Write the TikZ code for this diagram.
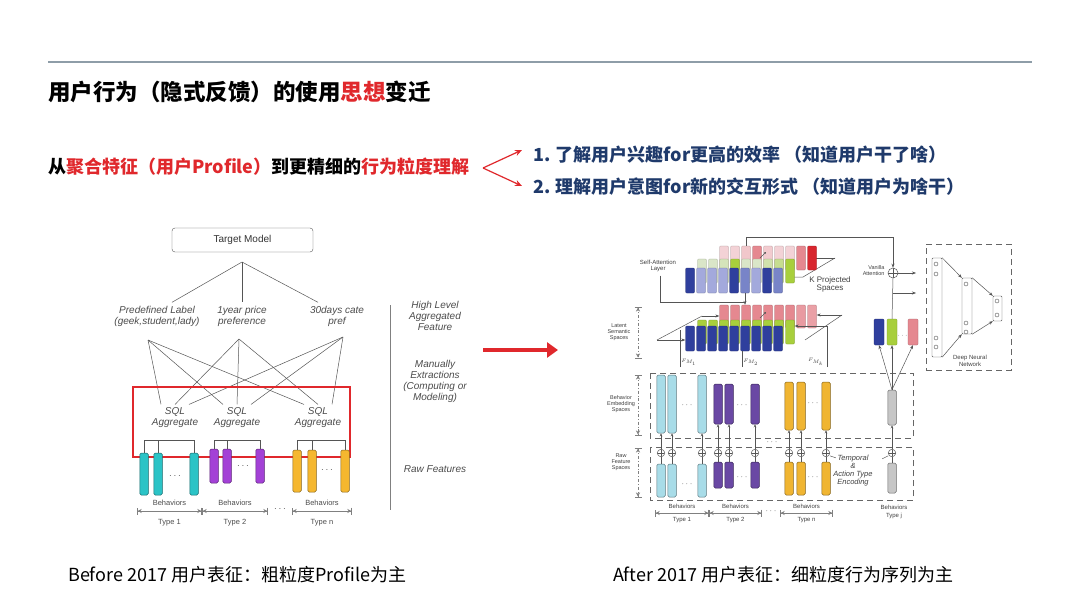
\documentclass[tikz,border=0pt]{standalone}
\usepackage{fontspec}
\setmainfont{Liberation Sans}
\newfontfamily\cjk{Noto Sans CJK SC}
\usetikzlibrary{arrows.meta,calc,positioning}

\definecolor{rulegray}{HTML}{8E9DA8}
\definecolor{slidered}{HTML}{E0282C}
\definecolor{navy}{HTML}{1F3A6B}
\definecolor{linegray}{HTML}{555555}
\definecolor{cyanL}{HTML}{2BC3C6}
\definecolor{purpL}{HTML}{A341D6}
\definecolor{orgL}{HTML}{F5B72F}
\definecolor{cyanR}{HTML}{A8DCE8}
\definecolor{purpR}{HTML}{6A48A4}
\definecolor{orgR}{HTML}{F0B532}
\definecolor{grayR}{HTML}{C6C6C6}
\definecolor{blueD}{HTML}{2F3F9D}
\definecolor{blueM}{HTML}{7884C8}
\definecolor{blueL}{HTML}{A3A9DC}
\definecolor{greenB}{HTML}{A8CF3C}
\definecolor{greenL}{HTML}{DAE6C8}
\definecolor{pinkL}{HTML}{F3D2D6}
\definecolor{pinkM}{HTML}{E58890}
\definecolor{redD}{HTML}{D8262E}

\tikzset{
  lbl/.style={font=\fontsize{10}{11}\selectfont\itshape, text=black!70, align=center},
  sml/.style={font=\fontsize{5.5}{6}\selectfont, text=black!75, align=center},
  bar/.style={draw=#1!55!black, fill=#1, rounded corners=1.5pt, minimum width=8.5pt, inner sep=0pt, line width=0.5pt},
  cell/.style={draw=#1!70!black, fill=#1, minimum width=9pt, inner sep=0pt, line width=0.3pt, rounded corners=1pt},
  oplus/.style={circle, draw=linegray, fill=white, minimum size=7.5pt, inner sep=0pt, line width=0.5pt,
    path picture={\draw[linegray,line width=0.4pt] (path picture bounding box.north) -- (path picture bounding box.south)
      (path picture bounding box.east) -- (path picture bounding box.west);}},
  dimline/.style={draw=gray, line width=0.7pt, {Bar[width=7pt]Stealth[length=4pt,width=4pt]}-{Stealth[length=4pt,width=4pt]Bar[width=7pt]}},
  lnk/.style={draw=linegray, line width=0.5pt},
  tip/.style={-{Stealth[length=4pt,width=3pt]}},
  dashbox/.style={draw=black!60, line width=0.8pt, dash pattern=on 6pt off 4pt},
}

\begin{document}
\begin{tikzpicture}[x=1pt,y=-1pt]
  \fill[white] (0,0) rectangle (1080,608);
  \useasboundingbox (0,0) rectangle (1080,608);

  % header and slogan
  \coordinate (ruleL) at (48,62);
  \coordinate (ruleR) at (1032,62);
  \draw[rulegray,line width=1.5pt] (ruleL) -- (ruleR);
  \node[anchor=west,inner sep=0pt,font=\cjk\bfseries\fontsize{22.5}{24}\selectfont] (title) at (48,92)
    {用户行为（隐式反馈）的使用\textcolor{slidered}{思想}变迁};
  \node[anchor=west,inner sep=0pt,font=\cjk\bfseries\fontsize{18}{20}\selectfont] (idea) at (48,167)
    {从\textcolor{slidered}{聚合特征（用户Profile）}到更精细的\textcolor{slidered}{行为粒度理解}};
  \node[anchor=west,inner sep=0pt,text=navy,font=\cjk\bfseries\fontsize{18}{20}\selectfont] (goal1) at (533,155)
    {1. 了解用户兴趣for更高的效率 （知道用户干了啥）};
  \node[anchor=west,inner sep=0pt,text=navy,font=\cjk\bfseries\fontsize{18}{20}\selectfont] (goal2) at (533,187)
    {2. 理解用户意图for新的交互形式 （知道用户为啥干）};
  \coordinate (fork) at (483,168);
  \draw[slidered,line width=1.2pt,-{Stealth[length=7pt,width=6pt]}] (fork) -- ([xshift=-11pt,yshift=5pt]goal1.west);
  \draw[slidered,line width=1.2pt,-{Stealth[length=7pt,width=6pt]}] (fork) -- ([xshift=-11pt,yshift=1pt]goal2.west);

  \node[anchor=west,inner sep=0pt,font=\cjk\fontsize{18}{20}\selectfont] (before) at (68,575)
    {Before 2017 用户表征：粗粒度Profile为主};
  \node[anchor=west,inner sep=0pt,font=\cjk\fontsize{18}{20}\selectfont] (after) at (613,575)
    {After 2017 用户表征：细粒度行为序列为主};

  \coordinate (shiftL) at (483,350);
  \coordinate (shiftR) at (558,350);
  \draw[slidered,line width=3.5pt,-{Triangle[length=11pt,width=15pt]}] (shiftL) -- (shiftR);

  % before: profile features
  \node[draw=linegray,rounded corners=3pt,minimum width=141pt,minimum height=24pt,
        font=\fontsize{10}{11}\selectfont,text=black!80] (target) at (242.5,240) {Target Model};
  \coordinate (hub) at (242,262);
  \node[lbl] (f1) at (157,316) {Predefined Label\\(geek,student,lady)};
  \node[lbl] (f2) at (242,316) {1year price\\preference};
  \node[lbl] (f3) at (337,316) {30days cate\\pref};
  \draw[lnk] (hub) -- ([xshift=15pt]f1.north);
  \draw[lnk] (hub) -- (f2.north);
  \draw[lnk] (hub) -- ([xshift=-19pt]f3.north);
  \coordinate (fb1) at (148,340);
  \coordinate (fb2) at (239,339);
  \coordinate (fb3) at (343,337);
  \node[lbl] (s1) at (175,418) {SQL\\Aggregate};
  \node[lbl] (s2) at (237,418) {SQL\\Aggregate};
  \node[lbl] (s3) at (318,418) {SQL\\Aggregate};
  \foreach \i in {1,2,3}
    \foreach \j in {1,2,3}
      \draw[lnk] (fb\i) -- ([xshift={14*(\i-2)}]s\j.north);
  \draw[slidered,line width=2.5pt] (133,387) rectangle (350,457);

  \foreach \x [count=\k] in {144,158,194}
    \node[bar=cyanL,minimum height=42pt] (ca\k) at (\x,474) {};
  \foreach \x [count=\k] in {214,227,260}
    \node[bar=purpL,minimum height=34pt] (pa\k) at (\x,466) {};
  \foreach \x [count=\k] in {297,312,345}
    \node[bar=orgL,minimum height=42pt] (oa\k) at (\x,471) {};
  \foreach \g in {ca,pa,oa} {
    \draw[lnk] (\g1.north) -- (\g1.north |- 0,440) -- (\g3.north |- 0,440) -- (\g3.north);
    \draw[lnk] (\g2.north) -- (\g2.north |- 0,440);
  }
  \node[text=linegray] (cdots) at (175,476) {$\cdots$};
  \node[text=linegray] (pdots) at (243,466) {$\cdots$};
  \node[text=linegray] (odots) at (327,470) {$\cdots$};

  \coordinate (la0) at (137,511);
  \coordinate (la1) at (202,511);
  \coordinate (la2) at (268,511);
  \coordinate (la3) at (292,511);
  \coordinate (la4) at (352,511);
  \draw[dimline] (la0) -- (la1);
  \draw[dimline] (la1) -- (la2);
  \draw[dimline] (la3) -- (la4);
  \node[text=linegray] (ladots) at (280,509) {$\cdots$};
  \node[font=\fontsize{7.5}{8}\selectfont,text=black!70] (lb1) at (169.5,503) {Behaviors};
  \node[font=\fontsize{7.5}{8}\selectfont,text=black!70] (lb2) at (235,503) {Behaviors};
  \node[font=\fontsize{7.5}{8}\selectfont,text=black!70] (lb3) at (322,503) {Behaviors};
  \node[font=\fontsize{7.5}{8}\selectfont,text=black!70] (lt1) at (169.5,523) {Type 1};
  \node[font=\fontsize{7.5}{8}\selectfont,text=black!70] (lt2) at (235,523) {Type 2};
  \node[font=\fontsize{7.5}{8}\selectfont,text=black!70] (lt3) at (322,523) {Type n};

  \coordinate (sepT) at (390,305);
  \coordinate (sepB) at (390,510);
  \draw[gray,line width=1pt] (sepT) -- (sepB);
  \node[lbl] (lvl1) at (435,316) {High Level\\Aggregated\\Feature};
  \node[lbl] (lvl2) at (435,381) {Manually\\Extractions\\(Computing or\\Modeling)};
  \node[lbl] (lvl3) at (435,469) {Raw Features};

  % after: behavior sequence model
  % self-attention block
  \coordinate (tR) at (835,258);
  \draw[lnk] (tR) -- (812,258);
  \draw[lnk] (tR) -- (803,277) -- (790,277);
  \foreach \c [count=\i] in {pinkL,pinkL,pinkL!85!pinkM,pinkM,pinkL!90!pinkM,pinkL,pinkL,pinkM,redD}
    \node[cell=\c,minimum height=24pt] (tp\i) at ({713+11*\i},258) {};
  \foreach \c [count=\i] in {greenL,greenL,greenL!90!greenB,greenB,greenL,greenL,greenL!80!greenB,greenL!60!greenB,greenB}
    \node[cell=\c,minimum height=24pt] (tg\i) at ({691+11*\i},271) {};
  \foreach \c [count=\i] in {blueD,blueL,blueL,blueL,blueD,blueM,blueL,blueD,blueM}
    \node[cell=\c,minimum height=25pt] (tb\i) at ({679+11*\i},280.5) {};
  \draw[linegray,line width=0.4pt,-{Stealth[length=2pt,width=2pt]}] (760,258) -- (766,252);
  \node[font=\fontsize{8}{8}\selectfont,text=black!75,align=center] (kps) at (830,284) {K Projected\\Spaces};
  \node[font=\fontsize{6}{6.5}\selectfont,text=black!75,align=center] (sal) at (658,266) {Self-Attention\\Layer};

  % latent semantic block
  \coordinate (lA) at (657,340);
  \coordinate (lB) at (702,316);
  \coordinate (lR) at (842,315);
  \coordinate (lC) at (805,340);
  \draw[lnk] (lA) -- (lB);
  \draw[lnk] (lR) -- (lC);
  \foreach \c [count=\i] in {pinkM,pinkM,pinkM,pinkM,pinkM,pinkM,pinkM,pinkM!85!white,pinkM!80!white}
    \node[cell=\c,minimum height=23pt] (lp\i) at ({713+11*\i},316.5) {};
  \foreach \i in {1,...,9}
    \node[cell=greenB,minimum height=24pt] (lg\i) at ({691+11*\i},332) {};
  \foreach \i in {1,...,9}
    \node[cell=blueD,minimum height=25pt] (lb\i) at ({679+11*\i},338.5) {};
  \draw[linegray,line width=0.4pt,-{Stealth[length=2pt,width=2pt]}] (760,318) -- (766,312);
  \draw[lnk,tip] (lB) -- (lp1.west |- lB);
  \draw[lnk,tip] (lA) -- (lb1.west |- lA);
  \draw[lnk,tip] (lR) -- (lp9.east |- lR);
  \draw[lnk] ([xshift=2pt]sal.south) |- (tb6.south |- 0,302);
  \draw[lnk,line width=0.9pt,tip] (tb6.south) -- (tb6.south |- lp3.north);

  \node[font=\fontsize{5.5}{6}\selectfont,text=black!75,align=center] (lss) at (619,332) {Latent\\Semantic\\Spaces};
  \coordinate (lsT) at (638,307);
  \coordinate (lsB) at (638,358);
  \draw[dimline,dash dot,line width=0.5pt] (lsT) -- (lsB);
  \coordinate (fm1) at (680,367);
  \coordinate (fm2) at (742,367);
  \coordinate (fm3) at (827,367);
  \draw[lnk] (fm1) -- (680,330);
  \draw[lnk] (fm2) -- (fm2 |- lb1.south);
  \draw[lnk,tip] (fm3) -- (827,326) -- (lg9.east |- 0,326);
  \node[font=\fontsize{5}{5}\selectfont,text=black!75] (fml1) at (689,362) {$F_{M_1}$};
  \node[font=\fontsize{5}{5}\selectfont,text=black!75] (fml2) at (751,362) {$F_{M_2}$};
  \node[font=\fontsize{5}{5}\selectfont,text=black!75] (fml3) at (816,362) {$F_{M_k}$};

  % embedding and raw feature spaces
  \draw[dashbox] (650,373) rectangle (913,438);
  \draw[dashbox] (650,447) rectangle (913,500);
  \node[font=\fontsize{5.5}{6}\selectfont,text=black!75,align=center] (bes) at (621,404) {Behavior\\Embedding\\Spaces};
  \node[font=\fontsize{5.5}{6}\selectfont,text=black!75,align=center] (rfs) at (621,462) {Raw\\Feature\\Spaces};
  \coordinate (beT) at (638,375);
  \coordinate (beB) at (638,435);
  \coordinate (rfT) at (638,448);
  \coordinate (rfB) at (638,497);
  \draw[dimline,dash dot,line width=0.5pt] (beT) -- (beB);
  \draw[dimline,dash dot,line width=0.5pt] (rfT) -- (rfB);

  \foreach \g/\c/\ey/\eh/\ry/\rh/\xs in {c/cyanR/404/58/480.5/33/{661,672,702},
                                         p/purpR/404/40/475/26/{718,729,755},
                                         o/orgR/406/48/478.5/33/{789,801,826},
                                         g/grayR/407.5/35/478/30/{892}} {
    \foreach \x [count=\k] in \xs {
      \node[bar=\c,minimum height=\eh] (e\g\k) at (\x,\ey) {};
      \node[bar=\c,minimum height=\rh] (r\g\k) at (\x,\ry) {};
      \node[oplus] (o\g\k) at (\x,453) {};
      \draw[lnk] (r\g\k.north) -- (o\g\k.south);
      \draw[lnk,-{Stealth[length=3pt,width=2.5pt]}] (o\g\k.north) -- (e\g\k.south);
    }
  }
  \node[text=linegray,font=\small] (ecd) at (687,405) {$\cdots$};
  \node[text=linegray,font=\small] (epd) at (742,405) {$\cdots$};
  \node[text=linegray,font=\small] (eod) at (813,403) {$\cdots$};
  \node[text=linegray,font=\small] (rcd) at (687,484) {$\cdots$};
  \node[text=linegray,font=\small] (rpd) at (742,477) {$\cdots$};
  \node[text=linegray,font=\small] (rod) at (813,477) {$\cdots$};
  \node[text=linegray,font=\small] (gapd) at (772,442) {$\cdots$};
  \node[font=\fontsize{7.5}{8}\selectfont\itshape,text=black!75,align=center] (enc) at (853,471)
    {Temporal\\\&\\Action Type\\Encoding};
  \draw[lnk] ([xshift=1pt]oo3.south east) -- ++(6,2);
  \draw[lnk] ([xshift=-1pt]og1.south west) -- ++(-6,3);

  \coordinate (ra0) at (655,513);
  \coordinate (ra1) at (709,513);
  \coordinate (ra2) at (762,513);
  \coordinate (ra3) at (780,513);
  \coordinate (ra4) at (833,513);
  \draw[dimline] (ra0) -- (ra1);
  \draw[dimline] (ra1) -- (ra2);
  \draw[dimline] (ra3) -- (ra4);
  \node[text=linegray,font=\small] (radots) at (771,511) {$\cdots$};
  \node[font=\fontsize{6}{6.5}\selectfont,text=black!75] (rb1) at (682,506) {Behaviors};
  \node[font=\fontsize{6}{6.5}\selectfont,text=black!75] (rb2) at (735.5,506) {Behaviors};
  \node[font=\fontsize{6}{6.5}\selectfont,text=black!75] (rb3) at (806.5,506) {Behaviors};
  \node[font=\fontsize{6}{6.5}\selectfont,text=black!75] (rt1) at (682,520) {Type 1};
  \node[font=\fontsize{6}{6.5}\selectfont,text=black!75] (rt2) at (735.5,520) {Type 2};
  \node[font=\fontsize{6}{6.5}\selectfont,text=black!75] (rt3) at (806.5,520) {Type n};
  \node[font=\fontsize{6}{7.5}\selectfont,text=black!75,align=center] (rbj) at (894,512) {Behaviors\\Type j};

  % vanilla attention
  \node[cell=blueD,minimum width=10pt,minimum height=26pt] (vb) at (879,332) {};
  \node[cell=greenB,minimum width=10pt,minimum height=26pt] (vg) at (892,332) {};
  \node[cell=pinkM,minimum width=10pt,minimum height=26pt] (vp) at (913,332) {};
  \node[text=linegray,font=\scriptsize] (vdots) at (902.5,336) {$\cdots$};
  \draw[lnk,tip] (eg1.north) -- (vb.south);
  \draw[lnk,tip] (eg1.north) -- (vg.south);
  \draw[lnk,tip] (eg1.north) -- (vp.south);
  \node[oplus,minimum size=10pt] (va) at (893,273) {};
  \node[font=\fontsize{5.5}{6}\selectfont,text=black!75,align=right,anchor=east] (val) at (888,271) {Vanilla\\Attention};
  \draw[lnk,tip] (tp3.north) -- ++(0,-9) -| (va.north);
  \draw[lnk] (vg.north) -- (va.south);
  \coordinate (vbr) at (893,293);
  \coordinate (out1) at (916,273);
  \coordinate (out2) at (916,293);
  \draw[lnk,tip] (va.east) -- (out1);
  \draw[lnk,tip] (vbr) -- (out2);

  % deep network
  \node[dashbox,minimum width=85pt,minimum height=126pt] (dnn) at (968.5,307) {};
  \node[draw=linegray,fill=white,rounded corners=1pt,minimum width=10pt,minimum height=99pt,inner sep=0pt] (d1) at (937,307.5) {};
  \node[draw=linegray,fill=white,rounded corners=1pt,minimum width=10pt,minimum height=56pt,inner sep=0pt] (d2) at (967,306) {};
  \node[draw=linegray,fill=white,rounded corners=1pt,minimum width=9pt,minimum height=25pt,inner sep=0pt] (d3) at (997.5,308.5) {};
  \foreach \y [count=\k] in {264,274,338,347}
    \node[circle,draw=linegray,minimum size=4pt,inner sep=0pt] (n1\k) at (936,\y) {};
  \foreach \y [count=\k] in {284,323,332}
    \node[circle,draw=linegray,minimum size=4pt,inner sep=0pt] (n2\k) at (966,\y) {};
  \foreach \y [count=\k] in {301,315}
    \node[circle,draw=linegray,minimum size=4pt,inner sep=0pt] (n3\k) at (997,\y) {};
  \draw[lnk,tip] (d1.north east) -- (d2.north west);
  \draw[lnk,tip] (d1.south east) -- (d2.south west);
  \draw[lnk,tip] (d2.north east) -- (d3.north west);
  \draw[lnk,tip] (d2.south east) -- (d3.south west);
  \node[font=\fontsize{6}{7}\selectfont,text=black!75,align=center] (dnl) at (970,361) {Deep Neural\\Network};
\end{tikzpicture}
\end{document}
